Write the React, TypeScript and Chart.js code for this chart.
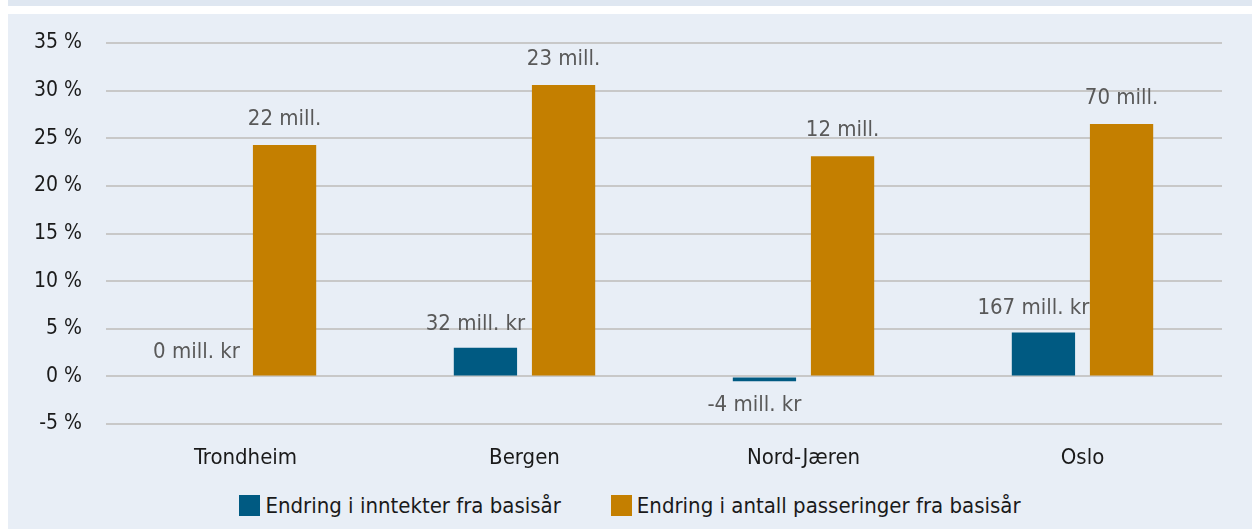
import React, { useEffect, useRef } from "react";
import { Chart, registerables } from "chart.js";

Chart.register(...registerables);

const categories = ["Trondheim", "Bergen", "Nord-Jæren", "Oslo"];
const incomeChange = [0, 3.0, -0.5, 4.6];
const passingsChange = [24.3, 30.6, 23.1, 26.5];
const incomeLabels = ["0 mill. kr", "32 mill. kr", "-4 mill. kr", "167 mill. kr"];
const passingsLabels = ["22 mill.", "23 mill.", "12 mill.", "70 mill."];
const seriesNames = ["Endring i inntekter fra basisår", "Endring i antall passeringer fra basisår"];
const yMin = -5;
const yMax = 35;
const yStep = 5;

const BLUE = "#005a82";
const ORANGE = "#c47f00";
const FONT = "'DejaVu Sans Condensed', 'DejaVu Sans', sans-serif";

const labelPlugin = {
  id: "valueLabels",
  afterDatasetsDraw(chart: any) {
    const ctx = chart.ctx;
    ctx.save();
    ctx.font = `22px ${FONT}`;
    ctx.fillStyle = "#595959";
    ctx.textAlign = "center";
    ctx.textBaseline = "middle";
    chart.data.datasets.forEach((ds: any, di: number) => {
      const meta = chart.getDatasetMeta(di);
      const texts = di === 0 ? incomeLabels : passingsLabels;
      const dx = di === 0 ? -10 : 0;
      const off = di === 0 ? 24 : 26;
      meta.data.forEach((bar: any, i: number) => {
        const v = ds.data[i];
        const y = v < 0 ? bar.y + off : bar.y - off;
        ctx.fillText(texts[i], bar.x + dx, y);
      });
    });
    ctx.restore();
  },
};

function App() {
  const ref = useRef<HTMLCanvasElement | null>(null);
  useEffect(() => {
    if (!ref.current) return;
    const chart = new Chart(ref.current, {
      type: "bar",
      data: {
        labels: categories,
        datasets: [
          {
            label: seriesNames[0],
            data: incomeChange,
            backgroundColor: BLUE,
            categoryPercentage: 0.56,
            barPercentage: 0.81,
          },
          {
            label: seriesNames[1],
            data: passingsChange,
            backgroundColor: ORANGE,
            categoryPercentage: 0.56,
            barPercentage: 0.81,
          },
        ],
      },
      options: {
        animation: false,
        responsive: true,
        maintainAspectRatio: false,
        layout: { padding: { left: 0, right: 30, top: 29, bottom: 0 } },
        plugins: {
          legend: { display: false },
          tooltip: { enabled: false },
        },
        scales: {
          x: {
            grid: { display: false },
            border: { display: false },
            ticks: {
              color: "#1a1a1a",
              font: { family: FONT, size: 22 },
              padding: 13,
            },
            afterFit: (s: any) => {
              s.height = 50;
            },
          },
          y: {
            min: yMin,
            max: yMax,
            grid: { color: "#c8c8c8", lineWidth: 2, drawTicks: false },
            border: { display: false },
            ticks: {
              stepSize: yStep,
              color: "#1a1a1a",
              font: { family: FONT, size: 21 },
              padding: 24,
              callback: (v: any) => `${v} %`,
            },
            afterFit: (s: any) => {
              s.width = 98;
              s.paddingTop = 0;
              s.paddingBottom = 0;
            },
          },
        },
      },
      plugins: [labelPlugin],
    });
    return () => chart.destroy();
  }, []);

  const legendItem = (color: string, text: string) => (
    <div style={{ display: "flex", alignItems: "center" }}>
      <div style={{ width: 21, height: 21, background: color, marginRight: 5 }} />
      <span style={{ fontFamily: FONT, fontSize: 22, color: "#1a1a1a", lineHeight: "21px" }}>{text}</span>
    </div>
  );

  return (
    <div style={{ position: "fixed", left: 0, top: 0, width: 1252, height: 529, background: "#ffffff", overflow: "hidden" }}>
      <div style={{ position: "absolute", left: 8, top: 0, width: 1244, height: 6, background: "#dfe7f1" }} />
      <div style={{ position: "absolute", left: 8, top: 14, width: 1244, height: 515, background: "#e8eef6" }}>
        <div style={{ position: "absolute", left: 0, top: 0, width: 1244, height: 460 }}>
          <canvas ref={ref} />
        </div>
        <div
          style={{
            position: "absolute",
            top: 481,
            left: 0,
            width: 1244,
            display: "flex",
            justifyContent: "center",
            gap: 50,
          }}
        >
          {legendItem(BLUE, seriesNames[0])}
          {legendItem(ORANGE, seriesNames[1])}
        </div>
      </div>
    </div>
  );
}

export default App;
